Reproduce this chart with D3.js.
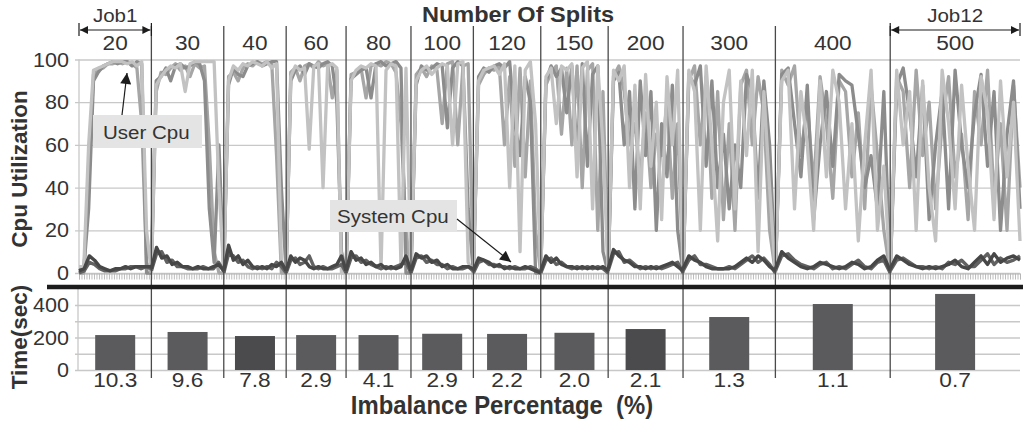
<!DOCTYPE html>
<html>
<head>
<meta charset="utf-8">
<script src="https://cdn.jsdelivr.net/npm/d3@7"></script>
<style>
  body { margin: 0; background: #fff; }
  svg { display: block; font-family: "Liberation Sans", Arial, sans-serif; }
</style>
</head>
<body>
<svg id="chart" width="1023" height="421"></svg>
<script>
// Jobs: number of splits, length of each run (samples), runtime and imbalance
var splits = [20, 30, 40, 60, 80, 100, 120, 150, 200, 300, 400, 500];
var jobSamples = [29, 29, 25, 24, 26, 25, 27, 27, 30, 37, 46, 52];
var timeSec = [215, 234, 209, 215, 215, 223, 222, 229, 252, 326, 406, 468];
var imbalance = ['10.3', '9.6', '7.8', '2.9', '4.1', '2.9', '2.2', '2.0', '2.1', '1.3', '1.1', '0.7'];
var cpuTicks = [0, 20, 40, 60, 80, 100];
var timeGrid = [0, 100, 200, 300, 400];
var timeTicks = [0, 200, 400];

// User cpu, three nodes, one array per job
var userCpuA = [
  [3, 3, 60, 95, 96, 97, 98, 99, 99, 99, 98, 99, 97, 99, 20, 0],
  [0, 88, 92, 95, 97, 96, 98, 85, 98, 99, 99, 99, 99, 99, 40, 0],
  [0, 90, 97, 95, 98, 97, 99, 98, 97, 99, 96, 98, 5, 0],
  [0, 92, 97, 95, 96, 58, 97, 98, 40, 97, 98, 96, 0, 0],
  [0, 90, 95, 97, 96, 98, 97, 2, 95, 98, 97, 3, 96, 0],
  [0, 90, 95, 97, 93, 96, 98, 97, 60, 98, 99, 5, 0],
  [0, 90, 95, 96, 97, 93, 98, 40, 97, 10, 95, 99, 70, 0],
  [0, 92, 96, 70, 97, 95, 98, 45, 96, 99, 30, 97, 60, 0],
  [0, 95, 90, 97, 40, 88, 30, 93, 50, 80, 25, 92, 60, 95, 0],
  [0, 95, 85, 20, 97, 60, 15, 80, 95, 30, 90, 55, 95, 10, 85, 40, 0],
  [0, 90, 95, 30, 85, 60, 20, 90, 45, 95, 80, 30, 70, 15, 60, 95, 20, 50, 0],
  [0, 95, 60, 85, 20, 90, 40, 15, 95, 70, 30, 88, 50, 20, 92, 75, 25, 90, 45, 80, 15]
];
var userCpuB = [
  [0, 0, 46, 93, 95, 96, 98, 98, 99, 98, 99, 98, 96, 70, 5, 0],
  [0, 85, 94, 93, 96, 98, 95, 97, 92, 98, 96, 97, 60, 10, 0, 0],
  [0, 92, 94, 90, 96, 98, 97, 99, 98, 99, 98, 55, 0, 0],
  [0, 94, 96, 90, 97, 98, 96, 99, 97, 98, 82, 95, 5, 0],
  [0, 93, 94, 96, 82, 97, 98, 97, 99, 98, 94, 70, 20, 0],
  [0, 93, 96, 92, 97, 95, 70, 98, 99, 60, 97, 98, 0],
  [0, 88, 93, 96, 95, 97, 60, 92, 50, 96, 45, 90, 20, 0],
  [0, 88, 94, 97, 65, 96, 60, 97, 40, 95, 98, 20, 85, 0],
  [0, 92, 97, 85, 60, 70, 45, 75, 40, 65, 55, 80, 35, 70, 0],
  [0, 90, 97, 60, 92, 35, 85, 25, 70, 20, 88, 95, 60, 92, 75, 20, 0],
  [0, 95, 88, 97, 55, 80, 40, 92, 70, 35, 90, 85, 45, 75, 30, 88, 55, 20, 0],
  [0, 92, 85, 40, 95, 55, 80, 30, 70, 92, 45, 65, 25, 85, 60, 95, 35, 70, 20, 88, 40]
];
var userCpuC = [
  [2, 2, 30, 90, 94, 97, 98, 99, 98, 99, 99, 97, 99, 98, 0, 0],
  [5, 90, 92, 96, 90, 97, 98, 96, 97, 99, 98, 90, 30, 5, 60, 0],
  [3, 88, 96, 93, 92, 97, 98, 99, 97, 98, 99, 99, 40, 0],
  [2, 90, 95, 97, 93, 98, 97, 96, 98, 99, 97, 80, 10, 0],
  [0, 91, 93, 95, 96, 82, 98, 99, 97, 98, 99, 96, 0, 0],
  [0, 88, 97, 95, 96, 98, 97, 68, 96, 99, 97, 30, 0],
  [0, 92, 96, 94, 97, 98, 96, 99, 70, 55, 92, 80, 0, 0],
  [0, 90, 97, 92, 96, 75, 97, 55, 98, 50, 93, 97, 10, 0],
  [0, 90, 94, 60, 85, 30, 90, 55, 85, 20, 70, 45, 88, 20, 0],
  [0, 93, 88, 97, 50, 90, 40, 65, 30, 60, 40, 93, 85, 35, 90, 60, 0],
  [0, 93, 96, 70, 45, 88, 25, 60, 85, 50, 93, 90, 88, 65, 40, 55, 30, 85, 0],
  [0, 88, 96, 75, 45, 88, 25, 60, 85, 30, 95, 60, 40, 75, 93, 50, 85, 20, 65, 90, 30]
];

// System cpu, two nodes
var sysCpuA = [
  [1, 2, 8, 6, 3, 2, 1, 2, 2, 3, 2, 3, 3, 3, 3],
  [2, 12, 7, 8, 4, 5, 3, 3, 2, 3, 2, 2, 3, 4, 1],
  [1, 13, 6, 8, 4, 6, 3, 2, 3, 2, 4, 3, 5, 1],
  [1, 8, 5, 7, 6, 3, 2, 3, 2, 2, 3, 4, 8, 1],
  [1, 10, 6, 7, 4, 5, 3, 4, 2, 3, 2, 3, 8, 1],
  [1, 9, 7, 8, 5, 6, 3, 4, 2, 2, 3, 3, 2],
  [1, 7, 6, 5, 3, 4, 2, 3, 2, 2, 3, 2, 1, 0],
  [1, 8, 5, 7, 4, 3, 3, 2, 3, 2, 3, 2, 3, 1],
  [2, 11, 8, 6, 5, 3, 3, 2, 3, 2, 3, 4, 5, 3, 1],
  [2, 8, 6, 5, 3, 2, 2, 2, 2, 3, 5, 7, 5, 8, 6, 3, 1],
  [2, 10, 7, 5, 3, 2, 3, 5, 4, 3, 2, 3, 5, 4, 2, 3, 6, 8, 1],
  [2, 8, 6, 4, 3, 2, 3, 2, 3, 4, 6, 3, 2, 5, 8, 4, 9, 5, 7, 8, 6]
];
var sysCpuB = [
  [0, 1, 5, 4, 2, 1, 1, 1, 2, 2, 3, 3, 2, 3, 2],
  [1, 9, 10, 5, 6, 3, 3, 2, 2, 2, 3, 2, 2, 5, 1],
  [0, 9, 8, 5, 6, 3, 2, 3, 2, 3, 2, 5, 3, 0],
  [0, 6, 7, 4, 5, 8, 3, 2, 3, 2, 2, 3, 4, 0],
  [0, 7, 8, 5, 6, 4, 3, 2, 3, 2, 3, 4, 5, 0],
  [0, 7, 8, 5, 6, 4, 4, 2, 3, 2, 2, 3, 1],
  [0, 5, 6, 4, 4, 3, 3, 2, 3, 2, 2, 3, 2, 0],
  [0, 6, 7, 4, 5, 3, 2, 3, 2, 3, 2, 3, 2, 0],
  [1, 9, 10, 5, 6, 4, 2, 3, 2, 3, 2, 3, 4, 5, 0],
  [1, 6, 8, 4, 4, 3, 2, 2, 3, 2, 4, 6, 8, 5, 7, 4, 0],
  [1, 8, 9, 6, 4, 3, 2, 4, 5, 2, 3, 2, 4, 6, 3, 2, 5, 6, 0],
  [1, 6, 7, 5, 3, 3, 2, 3, 2, 5, 4, 6, 3, 3, 6, 9, 4, 7, 5, 6, 8]
];

var svg = d3.select('#chart');

// where each job starts on the sample axis
var jobStart = [0];
jobSamples.forEach(function(n, i) { jobStart.push(jobStart[i] + n); });
var total = jobStart[jobStart.length - 1];

var x = d3.scaleLinear().domain([0, total]).range([79, 1020]);
var yCpu = d3.scaleLinear().domain([0, 100]).range([273, 59.5]);
var yTime = d3.scaleLinear().domain([0, 500]).range([370, 288.75]);

// text helper, source figure fonts are not quite the usual proportions
function label(x0, y0, txt, size, weight, anchor, sx) {
  return svg.append('text')
    .attr('transform', 'translate(' + x0 + ',' + y0 + ') scale(' + (sx || 1.08) + ',1)')
    .attr('text-anchor', anchor || 'middle')
    .style('font-size', size + 'px')
    .style('font-weight', weight || 'normal')
    .style('white-space', 'pre')
    .attr('fill', '#333')
    .text(txt);
}

// top panel grid
var gridTop = svg.append('g').attr('transform', 'translate(79,0)')
  .call(d3.axisLeft(yCpu).tickValues(cpuTicks).tickSize(-941).tickFormat(''));
gridTop.select('.domain').remove();
gridTop.selectAll('line').attr('x1', -4).attr('stroke', '#c8c8c8').attr('stroke-width', 1.3);
svg.append('line').attr('x1', 79).attr('x2', 79).attr('y1', yCpu(100)).attr('y2', yCpu(0))
  .attr('stroke', '#c8c8c8').attr('stroke-width', 1.3);
cpuTicks.forEach(function(t) { label(69, yCpu(t) + 7, t, 20, 'normal', 'end'); });

// sample ticks on top panel
var xAxis = svg.append('g').attr('transform', 'translate(0,' + (yCpu(0) + 0.5) + ')')
  .call(d3.axisBottom(x).tickValues(d3.range(0, total + 1)).tickSize(6).tickFormat(''));
xAxis.select('.domain').attr('stroke', '#c0c0c0');
xAxis.selectAll('line').attr('stroke', '#b4b4b4').attr('stroke-width', 0.9);

// bottom panel grid
var gridBot = svg.append('g').attr('transform', 'translate(79,0)')
  .call(d3.axisLeft(yTime).tickValues(timeGrid).tickSize(-941).tickFormat(''));
gridBot.select('.domain').remove();
gridBot.selectAll('line').attr('x1', -4).attr('stroke', '#c8c8c8').attr('stroke-width', 1.3);
svg.append('line').attr('x1', 78).attr('x2', 78).attr('y1', 289).attr('y2', yTime(0))
  .attr('stroke', '#c8c8c8').attr('stroke-width', 1.3);
timeTicks.forEach(function(t) { label(69, yTime(t) + 7, t, 20, 'normal', 'end'); });

// cpu lines
function drawSeries(series, color, width) {
  series.forEach(function(vals, j) {
    var step = jobSamples[j] / (vals.length - 1);
    var line = d3.line()
      .x(function(d, i) { return x(jobStart[j] + i * step); })
      .y(function(d) { return yCpu(d); });
    svg.append('path')
      .datum(vals)
      .attr('fill', 'none')
      .attr('stroke', color)
      .attr('stroke-width', width)
      .attr('stroke-linejoin', 'round')
      .attr('d', line);
  });
}
drawSeries(userCpuB, '#a6a6a6', 3.3);
drawSeries(userCpuC, '#8c8c8c', 3.3);
drawSeries(userCpuA, '#c2c2c2', 3.3);
drawSeries(sysCpuB, '#626262', 3.4);
drawSeries(sysCpuA, '#474747', 3.4);

// job separators
jobStart.slice(1, -1).forEach(function(s) {
  svg.append('line').attr('x1', x(s)).attr('x2', x(s)).attr('y1', 26).attr('y2', 378)
    .attr('stroke', '#4a4a4a').attr('stroke-width', 1.3);
});

// thick divider between panels
svg.append('line').attr('x1', 47).attr('x2', 1023).attr('y1', 287).attr('y2', 287)
  .attr('stroke', '#1c1c1c').attr('stroke-width', 4.5);

// runtime bars
svg.selectAll('rect.bar')
  .data(timeSec)
  .enter().append('rect')
  .attr('class', 'bar')
  .attr('x', function(d, j) { return x(jobStart[j] + jobSamples[j] / 2) - 20; })
  .attr('width', 40)
  .attr('y', function(d) { return yTime(d); })
  .attr('height', function(d) { return yTime(0) - yTime(d); })
  .attr('fill', function(d, j) { return (j === 2 || j === 8) ? '#4b4b4d' : '#5b5b5d'; });

// split counts and imbalance labels
splits.forEach(function(s, j) {
  var cx = x(jobStart[j] + jobSamples[j] / 2);
  label(cx, 50, s, 21);
  label(cx, 387, imbalance[j], 21);
});

// titles
label(518, 22, 'Number Of Splits', 22, 'bold', 'middle', 1.07);
label(502, 414, 'Imbalance Percentage  (%)', 25, 'bold', 'middle', 0.955);
svg.append('text').attr('transform', 'translate(27,169) rotate(-90)')
  .attr('text-anchor', 'middle').style('font-size', '22.5px').style('font-weight', 'bold')
  .attr('fill', '#333').text('Cpu Utilization');
svg.append('text').attr('transform', 'translate(27,337) rotate(-90)')
  .attr('text-anchor', 'middle').style('font-size', '22.5px').style('font-weight', 'bold')
  .attr('fill', '#333').text('Time(sec)');

// arrow markers
var defs = svg.append('defs');
defs.append('marker').attr('id', 'headSmall').attr('viewBox', '0 0 10 10')
  .attr('refX', 10).attr('refY', 5).attr('markerWidth', 11).attr('markerHeight', 8)
  .attr('markerUnits', 'userSpaceOnUse').attr('orient', 'auto-start-reverse')
  .append('path').attr('d', 'M0,0L10,5L0,10Z').attr('fill', '#1c1c1c');
defs.append('marker').attr('id', 'headBig').attr('viewBox', '0 0 10 10')
  .attr('refX', 10).attr('refY', 5).attr('markerWidth', 16).attr('markerHeight', 11)
  .attr('markerUnits', 'userSpaceOnUse').attr('orient', 'auto')
  .append('path').attr('d', 'M0,0L10,5L0,10Z').attr('fill', '#1c1c1c');

// Job1 / Job12 spans
function jobSpan(j, ty) {
  var x0 = x(jobStart[j]), x1 = x(jobStart[j + 1]);
  svg.append('line').attr('x1', x0 + 1).attr('x2', x1 - 1).attr('y1', 30).attr('y2', 30)
    .attr('stroke', '#1c1c1c').attr('stroke-width', 1.2)
    .attr('marker-start', 'url(#headSmall)').attr('marker-end', 'url(#headSmall)');
  [x0, x1].forEach(function(xx) {
    svg.append('line').attr('x1', xx).attr('x2', xx).attr('y1', 23).attr('y2', 36)
      .attr('stroke', '#1c1c1c').attr('stroke-width', 1.2);
  });
  label((x0 + x1) / 2, ty, 'Job' + (j + 1), 19);
}
jobSpan(0, 22);
jobSpan(11, 22);

// annotations
svg.append('rect').attr('x', 93).attr('y', 115).attr('width', 109).attr('height', 33).attr('fill', '#e4e4e4');
label(103, 139, 'User Cpu', 19, 'normal', 'start');
svg.append('line').attr('x1', 122).attr('y1', 115).attr('x2', 127).attr('y2', 73)
  .attr('stroke', '#1c1c1c').attr('stroke-width', 1.2).attr('marker-end', 'url(#headBig)');

svg.append('rect').attr('x', 330).attr('y', 200).attr('width', 127).attr('height', 32).attr('fill', '#e4e4e4');
label(337, 223, 'System Cpu', 19, 'normal', 'start');
svg.append('line').attr('x1', 457).attr('y1', 219).attr('x2', 511).attr('y2', 262)
  .attr('stroke', '#1c1c1c').attr('stroke-width', 1.2).attr('marker-end', 'url(#headBig)');
</script>
</body>
</html>
